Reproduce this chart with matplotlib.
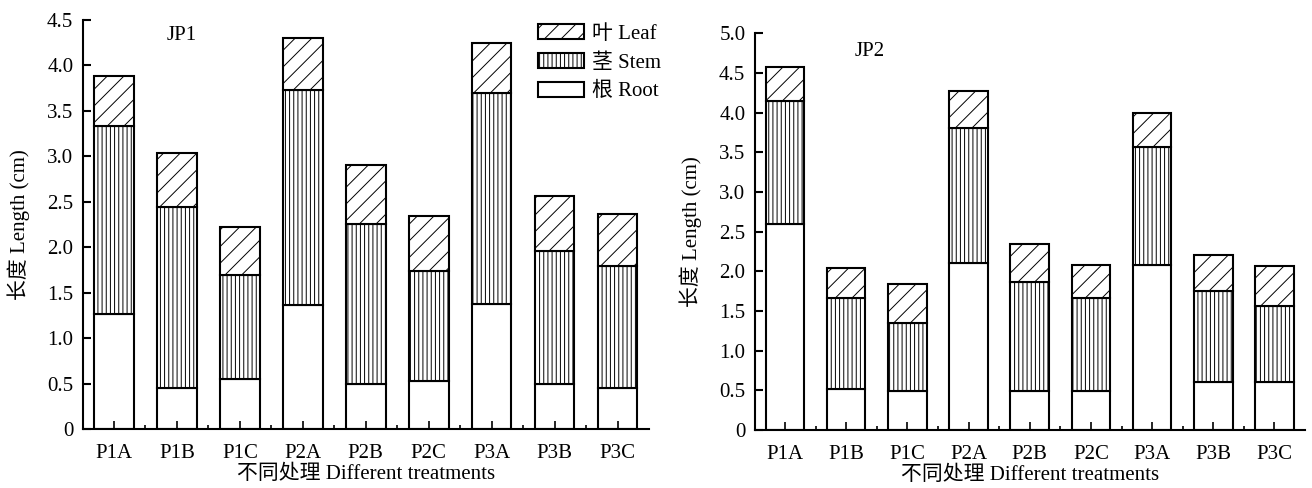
import numpy as np
import matplotlib
matplotlib.use('Agg')
import matplotlib.pyplot as plt
from matplotlib.patches import Patch

plt.rcParams['font.family'] = ['Liberation Serif', 'Noto Sans CJK SC']
plt.rcParams['hatch.linewidth'] = 0.7
plt.rcParams['hatch.color'] = '#333333'

treatments = ['P1A', 'P1B', 'P1C', 'P2A', 'P2B', 'P2C', 'P3A', 'P3B', 'P3C']

# JP1 (top of each segment)
jp1_root = [1.26, 0.45, 0.55, 1.36, 0.50, 0.53, 1.38, 0.50, 0.45]
jp1_stem_top = [3.33, 2.44, 1.69, 3.73, 2.25, 1.74, 3.70, 1.96, 1.79]
jp1_total = [3.88, 3.04, 2.22, 4.30, 2.91, 2.34, 4.25, 2.56, 2.36]

# JP2
jp2_root = [2.59, 0.52, 0.49, 2.10, 0.49, 0.49, 2.08, 0.60, 0.60]
jp2_stem_top = [4.15, 1.66, 1.35, 3.81, 1.86, 1.66, 3.56, 1.75, 1.56]
jp2_total = [4.58, 2.04, 1.84, 4.27, 2.34, 2.08, 3.99, 2.20, 2.06]

fs = 15
lw = 1.5

fig = plt.figure(figsize=(13.12, 4.88), dpi=100)
ax1 = fig.add_axes([0.0633, 0.121, 0.4314, 0.838])
ax2 = fig.add_axes([0.5755, 0.119, 0.4192, 0.813])


def draw(ax, root, stem_top, total, ymax, name, name_xy):
    x = np.arange(len(treatments))
    root = np.array(root)
    stem = np.array(stem_top) - root
    leaf = np.array(total) - np.array(stem_top)
    w = 0.63
    ax.bar(x, root, w, color='white', edgecolor='black', linewidth=lw)
    ax.bar(x, stem, w, bottom=root, color='white', edgecolor='black',
           linewidth=lw, hatch='||||')
    ax.bar(x, leaf, w, bottom=root + stem, color='white', edgecolor='black',
           linewidth=lw, hatch='//')
    ax.set_xlim(-0.49, 8.5)
    ax.set_ylim(0, ymax)
    yt = np.arange(0, ymax + 0.01, 0.5)
    ax.set_yticks(yt)
    ax.set_yticklabels(['0'] + ['%.1f' % v for v in yt[1:]])
    ax.set_xticks(x)
    ax.set_xticklabels(treatments)
    ax.set_xticks(x[:-1] + 0.5, minor=True)
    for s in ['top', 'right']:
        ax.spines[s].set_visible(False)
    for s in ['left', 'bottom']:
        ax.spines[s].set_linewidth(lw)
    ax.tick_params(axis='y', direction='in', length=6, width=lw,
                   labelsize=fs, pad=7)
    ax.tick_params(axis='x', which='major', direction='in', length=6,
                   width=1.2, labelsize=fs, pad=11)
    ax.tick_params(axis='x', which='minor', direction='in', length=3,
                   width=1.2)
    ax.set_ylabel('长度 Length (cm)', fontsize=fs, labelpad=12)
    ax.set_xlabel('不同处理 Different treatments', fontsize=fs, labelpad=1)
    ax.text(name_xy[0], name_xy[1], name, fontsize=fs, ha='center',
            va='center')


draw(ax1, jp1_root, jp1_stem_top, jp1_total, 4.5, 'JP1', (1.07, 4.33))
draw(ax2, jp2_root, jp2_stem_top, jp2_total, 5.0, 'JP2', (1.38, 4.77))

handles = [
    Patch(facecolor='white', edgecolor='black', linewidth=lw, hatch='//',
          label='叶 Leaf'),
    Patch(facecolor='white', edgecolor='black', linewidth=lw, hatch='||||',
          label='茎 Stem'),
    Patch(facecolor='white', edgecolor='black', linewidth=lw,
          label='根 Root'),
]
ax1.legend(handles=handles, loc='upper left',
           bbox_to_anchor=(538 / 1312, 1 - 24 / 488),
           bbox_transform=fig.transFigure, frameon=False, fontsize=fs,
           handlelength=2.2, handleheight=0.7, handletextpad=0.4,
           labelspacing=0.45, borderpad=0, borderaxespad=0)

fig.savefig('out.png', dpi=100, facecolor='white')
